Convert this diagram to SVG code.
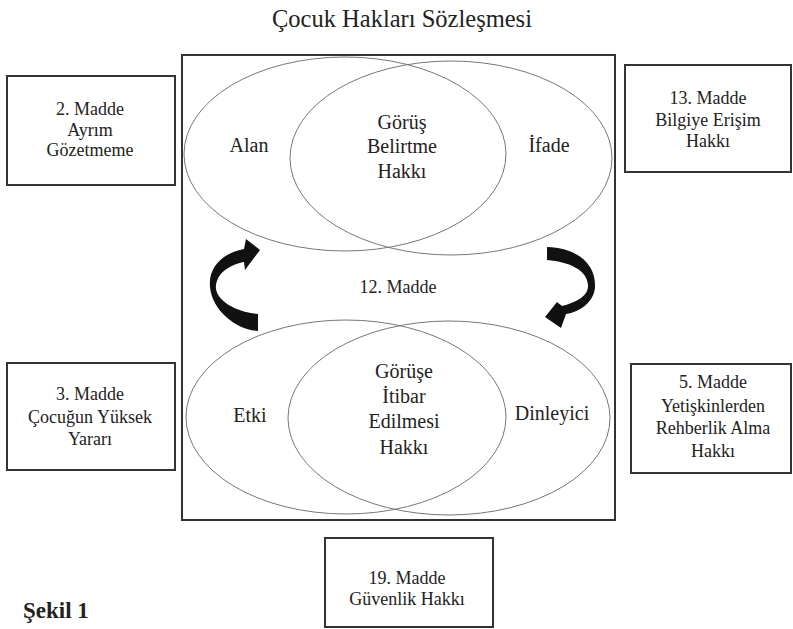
<svg xmlns="http://www.w3.org/2000/svg" width="793" height="629" viewBox="0 0 793 629">
<style>
text{fill:#222;text-anchor:middle}
.t{font-size:24.5px}
.e{font-size:20px}
.b{font-size:18px}
.frame{fill:none;stroke:#333;stroke-width:2}
.ell{fill:none;stroke:#777;stroke-width:1}
.arr{fill:#111;stroke:none}
</style>
<rect width="793" height="629" fill="#fff"/>
<g font-family="'Liberation Serif', 'Times New Roman', 'DejaVu Serif', serif">
<text class="t" x="402" y="27">Çocuk Hakları Sözleşmesi</text>
<g id="main">
<rect class="frame" x="182" y="55" width="433" height="465"/>
</g>
<g id="top-venn">
<ellipse class="ell" cx="345" cy="154" rx="161" ry="97"/>
<ellipse class="ell" cx="451" cy="158" rx="161" ry="97"/>
<text class="e" x="249" y="152">Alan</text>
<text class="e" x="402" y="129">Görüş</text>
<text class="e" x="402" y="153">Belirtme</text>
<text class="e" x="402" y="178">Hakkı</text>
<text class="e" x="549" y="152">İfade</text>
</g>
<g id="center-label">
<text class="b" x="398" y="293">12. Madde</text>
</g>
<g id="bottom-venn">
<ellipse class="ell" cx="346" cy="417" rx="160" ry="97"/>
<ellipse class="ell" cx="449" cy="418" rx="161" ry="97"/>
<text class="e" x="250" y="422">Etki</text>
<text class="e" x="404" y="378">Görüşe</text>
<text class="e" x="404" y="403">İtibar</text>
<text class="e" x="404" y="428">Edilmesi</text>
<text class="e" x="404" y="454">Hakkı</text>
<text class="e" x="552" y="420">Dinleyici</text>
</g>
<g id="connectors">
<path class="arr" d="M258,331 L258,314 C236,312 214,300 216,285 C218,272 230,265 244,262 L245,270 L260,250 L246,239 L244,249 C222,253 208,268 210,287 C212,310 236,330 258,331 Z"/>
<path class="arr" d="M547,247 C575,248 596,262 595,287 C594,302 580,312 566,314 L561,328 L545,317 L557,302 L562,306 C578,302 589,295 588,285 C587,270 570,262 547,260 Z"/>
</g>
<g id="box2">
<rect class="frame" x="7" y="76" width="168" height="109"/>
<text class="b" x="90" y="115">2. Madde</text>
<text class="b" x="90" y="136">Ayrım</text>
<text class="b" x="90" y="156">Gözetmeme</text>
</g>
<g id="box13">
<rect class="frame" x="625" y="65" width="166" height="107"/>
<text class="b" x="708" y="104">13. Madde</text>
<text class="b" x="708" y="126">Bilgiye Erişim</text>
<text class="b" x="708" y="147">Hakkı</text>
</g>
<g id="box3">
<rect class="frame" x="7" y="363" width="168" height="107"/>
<text class="b" x="90" y="400">3. Madde</text>
<text class="b" x="90" y="423">Çocuğun Yüksek</text>
<text class="b" x="90" y="445">Yararı</text>
</g>
<g id="box5">
<rect class="frame" x="631" y="364" width="160" height="109"/>
<text class="b" x="713" y="388">5. Madde</text>
<text class="b" x="713" y="412">Yetişkinlerden</text>
<text class="b" x="713" y="434">Rehberlik Alma</text>
<text class="b" x="713" y="457">Hakkı</text>
</g>
<g id="box19">
<rect class="frame" x="325" y="538" width="168" height="89"/>
<text class="b" x="407" y="584">19. Madde</text>
<text class="b" x="407" y="605">Güvenlik Hakkı</text>
</g>
<text x="23" y="618" style="font-size:23px;font-weight:bold;text-anchor:start">Şekil 1</text>
</g>
</svg>
